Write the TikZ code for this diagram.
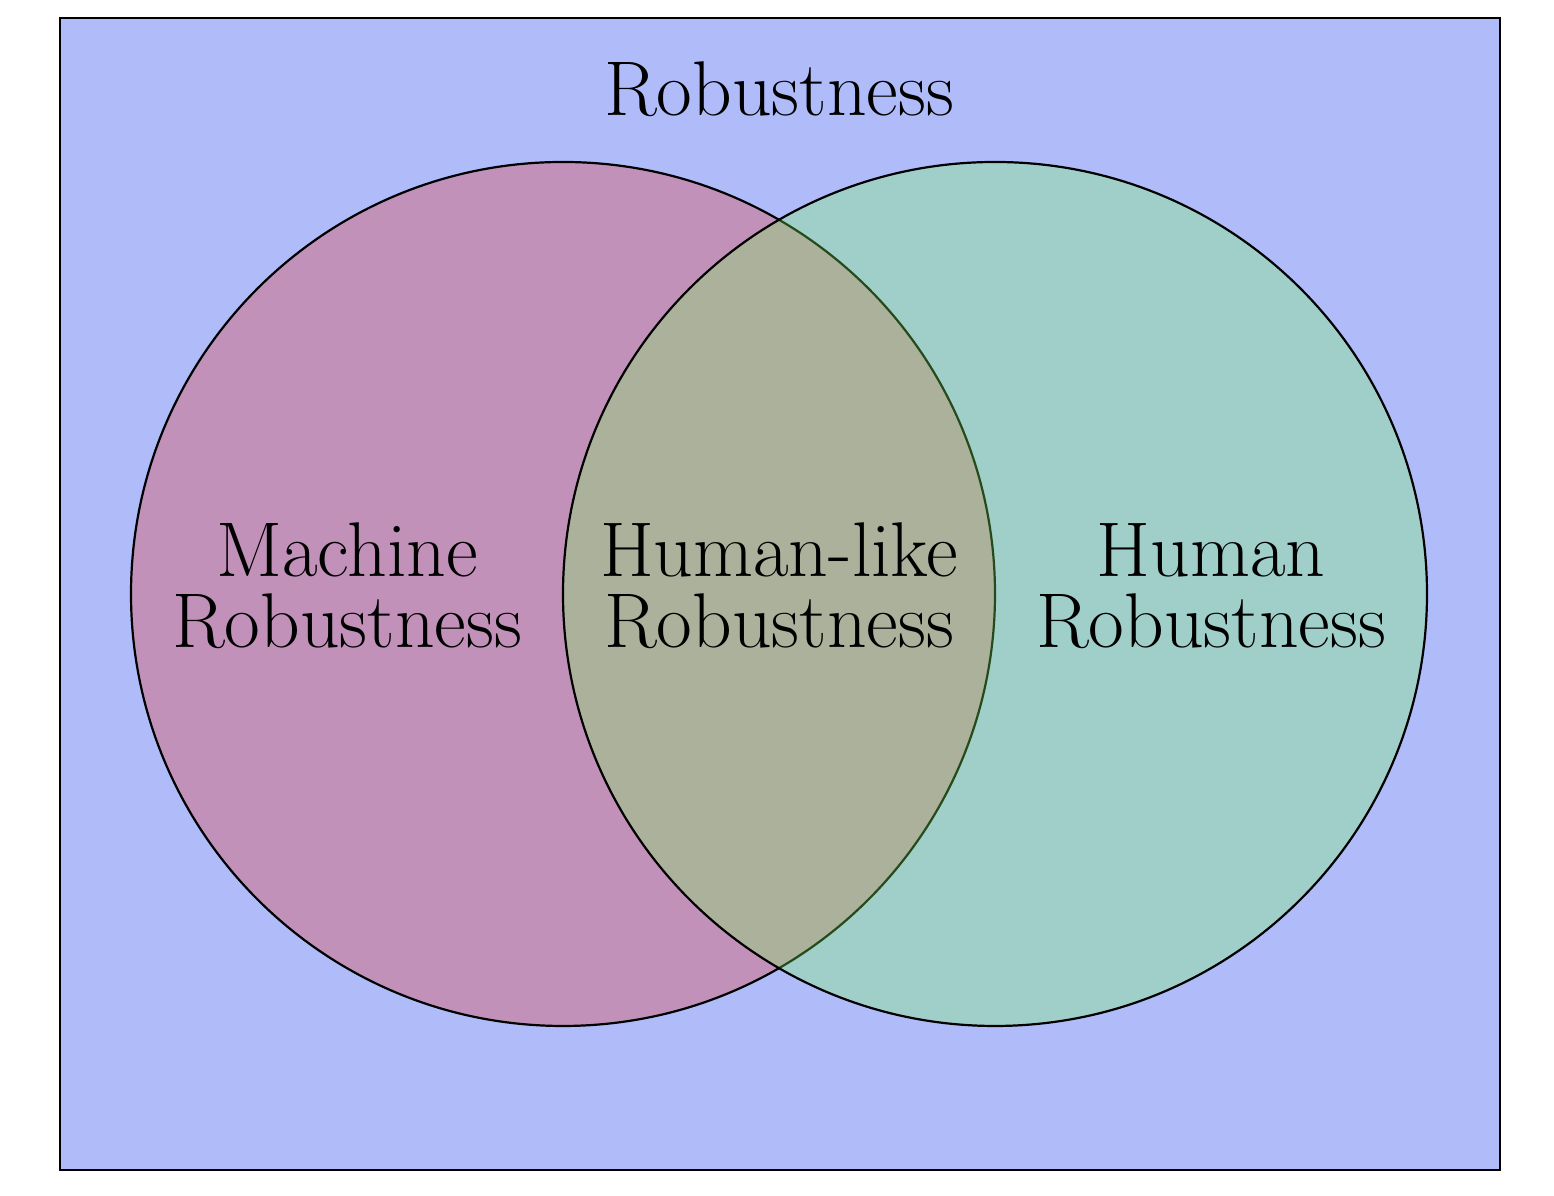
\documentclass[tikz,border=0pt]{standalone}
\begin{document}
\definecolor{bgblue}{RGB}{176,188,250}
\definecolor{leftpink}{RGB}{193,145,185}
\definecolor{rightgreen}{RGB}{126,251,90}
\tikzset{
  venn/.style={draw=black, line width=0.55pt},
  lbl/.style={align=center, inner sep=0pt, font=\fontsize{19.4}{17.75}\selectfont}
}
\begin{tikzpicture}[x=0.25pt,y=0.25pt]
\useasboundingbox (0,0) rectangle (1554,1196);
\draw[fill=bgblue, line width=0.55pt] (60,26) rectangle (1500,1178);
\node[lbl, anchor=base] (title) at (779,1080) {Robustness};
\fill[leftpink] (563,602) circle [radius=432];
\draw[venn] (563,602) circle [radius=432];
\fill[rightgreen, fill opacity=0.3] (995,602) circle [radius=432];
\draw[venn] (995,602) circle [radius=432];
\node[lbl] (machine) at (347,610) {Machine\\Robustness};
\node[lbl] (humanlike) at (779,610) {Human-like\\Robustness};
\node[lbl] (human) at (1211,610) {Human\\Robustness};
\end{tikzpicture}
\end{document}
